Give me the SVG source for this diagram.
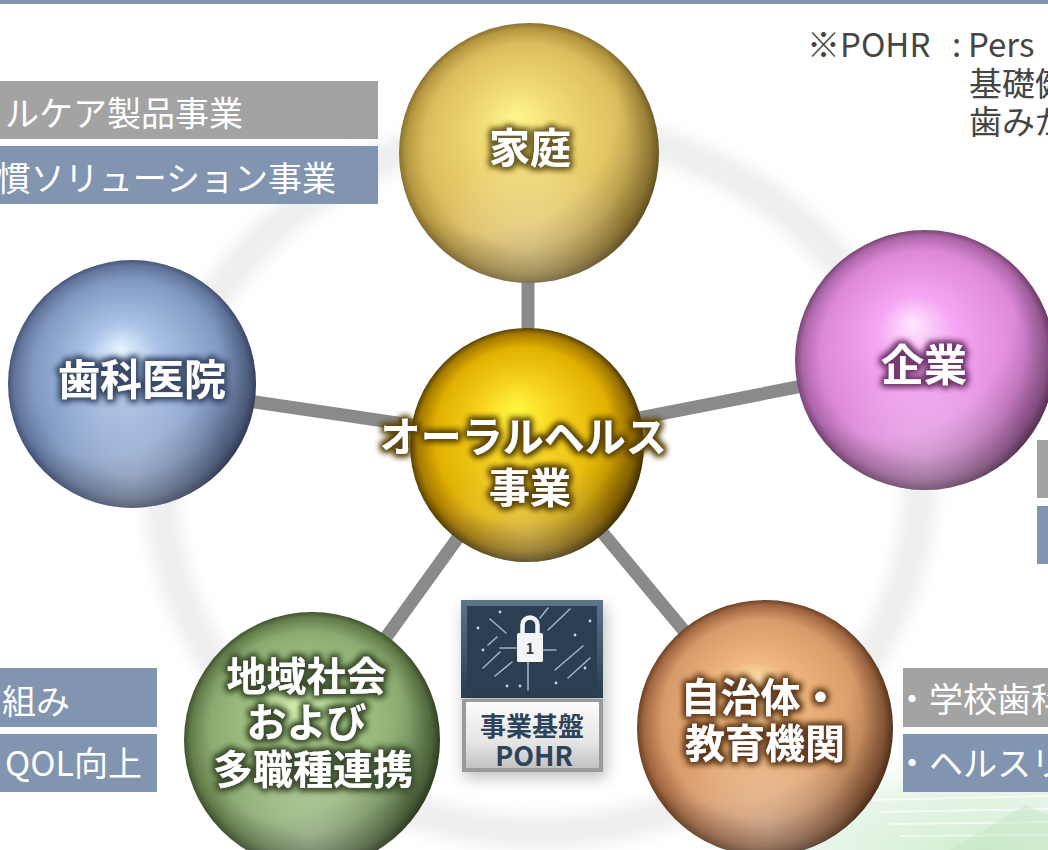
<svg xmlns="http://www.w3.org/2000/svg" width="1048" height="850" viewBox="0 0 1048 850">
  <style>
    .jp { font-family: "Noto Sans CJK JP", "Noto Sans", sans-serif; }
    .tag { font-family: "Noto Sans CJK JP", "Noto Sans", sans-serif; font-size: 34px; fill: #ffffff; }
    .note { font-family: "Noto Sans CJK JP", "Noto Sans", sans-serif; font-size: 33px; fill: #454545; }
    .ball { font-family: "Noto Sans CJK JP", sans-serif; font-weight: 700; fill: #ffffff; text-anchor: middle; }
    .gbox { fill: #a3a3a3; }
    .bbox { fill: #8195b0; }
    .link { stroke: #8a8a8a; stroke-width: 13; stroke-linecap: butt; fill: none; }
    .circ { stroke: #9fb2c3; stroke-width: 1.6; fill: none; stroke-linecap: round; }
    .dot { fill: #c9d6e0; }
  </style>
  <defs>
    <!-- sphere shading -->
    <radialGradient id="gHome" cx="50%" cy="50%" r="50%" fx="45%" fy="36%">
      <stop offset="0" stop-color="#fcf68c"/>
      <stop offset="0.35" stop-color="#efd873"/>
      <stop offset="0.78" stop-color="#dcbd5e"/>
      <stop offset="0.94" stop-color="#b4963f"/>
      <stop offset="1" stop-color="#8a7230"/>
    </radialGradient>
    <radialGradient id="gCore" cx="50%" cy="50%" r="50%" fx="45%" fy="34%">
      <stop offset="0" stop-color="#fff640"/>
      <stop offset="0.35" stop-color="#f6d21c"/>
      <stop offset="0.76" stop-color="#e0b000"/>
      <stop offset="0.93" stop-color="#a67a00"/>
      <stop offset="1" stop-color="#5a4200"/>
    </radialGradient>
    <radialGradient id="gDent" cx="50%" cy="50%" r="50%" fx="45%" fy="36%">
      <stop offset="0" stop-color="#e6f6ff"/>
      <stop offset="0.3" stop-color="#a9c2e6"/>
      <stop offset="0.78" stop-color="#8099c2"/>
      <stop offset="0.94" stop-color="#62769c"/>
      <stop offset="1" stop-color="#46557a"/>
    </radialGradient>
    <radialGradient id="gCorp" cx="50%" cy="50%" r="50%" fx="45%" fy="36%">
      <stop offset="0" stop-color="#ffe6ff"/>
      <stop offset="0.3" stop-color="#f5a6f2"/>
      <stop offset="0.78" stop-color="#dc88d8"/>
      <stop offset="0.94" stop-color="#ac66a8"/>
      <stop offset="1" stop-color="#7a4476"/>
    </radialGradient>
    <radialGradient id="gComm" cx="50%" cy="50%" r="50%" fx="45%" fy="34%">
      <stop offset="0" stop-color="#d9f3b4"/>
      <stop offset="0.3" stop-color="#a8c98a"/>
      <stop offset="0.78" stop-color="#8aaa70"/>
      <stop offset="0.94" stop-color="#627c4a"/>
      <stop offset="1" stop-color="#40542e"/>
    </radialGradient>
    <radialGradient id="gGov" cx="50%" cy="50%" r="50%" fx="45%" fy="34%">
      <stop offset="0" stop-color="#fff0b8"/>
      <stop offset="0.3" stop-color="#f0b880"/>
      <stop offset="0.78" stop-color="#d89a6a"/>
      <stop offset="0.94" stop-color="#a26842"/>
      <stop offset="1" stop-color="#6e4224"/>
    </radialGradient>
    <!-- shared darkening toward the lower right rim -->
    <radialGradient id="rim" cx="34%" cy="30%" r="80%">
      <stop offset="0.62" stop-color="#000" stop-opacity="0"/>
      <stop offset="1" stop-color="#000" stop-opacity="0.38"/>
    </radialGradient>
    <!-- soft bounce light at the bottom of each ball -->
    <radialGradient id="bounce" cx="50%" cy="88%" r="40%">
      <stop offset="0" stop-color="#fff" stop-opacity="0.28"/>
      <stop offset="1" stop-color="#fff" stop-opacity="0"/>
    </radialGradient>

    <linearGradient id="silver" x1="0" y1="0" x2="0" y2="1">
      <stop offset="0" stop-color="#fbfbfb"/>
      <stop offset="0.6" stop-color="#e6e6e6"/>
      <stop offset="1" stop-color="#c2c2c2"/>
    </linearGradient>
    <linearGradient id="navy" x1="0" y1="0" x2="0" y2="1">
      <stop offset="0" stop-color="#5d7489"/>
      <stop offset="1" stop-color="#2a3b4e"/>
    </linearGradient>
    <radialGradient id="mint" cx="85%" cy="100%" r="65%">
      <stop offset="0" stop-color="#cfeccf"/>
      <stop offset="0.6" stop-color="#e0f2e0" stop-opacity="0.7"/>
      <stop offset="1" stop-color="#ffffff" stop-opacity="0"/>
    </radialGradient>

    <filter id="soft" x="-20%" y="-20%" width="140%" height="140%">
      <feGaussianBlur stdDeviation="7"/>
    </filter>
    <filter id="shadow" x="-20%" y="-20%" width="140%" height="150%">
      <feGaussianBlur stdDeviation="8"/>
    </filter>

    <!-- halo behind the white ball labels, one tint per ball -->
    <filter id="hHome" x="-20%" y="-40%" width="140%" height="180%">
      <feMorphology in="SourceAlpha" operator="dilate" radius="2" result="d"/>
      <feGaussianBlur in="d" stdDeviation="3" result="b"/>
      <feFlood flood-color="#6e5e22"/>
      <feComposite in2="b" operator="in" result="s"/>
      <feMerge><feMergeNode in="s"/><feMergeNode in="s"/><feMergeNode in="SourceGraphic"/></feMerge>
    </filter>
    <filter id="hCore" x="-20%" y="-40%" width="140%" height="180%">
      <feMorphology in="SourceAlpha" operator="dilate" radius="2" result="d"/>
      <feGaussianBlur in="d" stdDeviation="3" result="b"/>
      <feFlood flood-color="#5c4508"/>
      <feComposite in2="b" operator="in" result="s"/>
      <feMerge><feMergeNode in="s"/><feMergeNode in="s"/><feMergeNode in="SourceGraphic"/></feMerge>
    </filter>
    <filter id="hDent" x="-20%" y="-40%" width="140%" height="180%">
      <feMorphology in="SourceAlpha" operator="dilate" radius="2" result="d"/>
      <feGaussianBlur in="d" stdDeviation="3" result="b"/>
      <feFlood flood-color="#3a4a6a"/>
      <feComposite in2="b" operator="in" result="s"/>
      <feMerge><feMergeNode in="s"/><feMergeNode in="s"/><feMergeNode in="SourceGraphic"/></feMerge>
    </filter>
    <filter id="hCorp" x="-20%" y="-40%" width="140%" height="180%">
      <feMorphology in="SourceAlpha" operator="dilate" radius="2" result="d"/>
      <feGaussianBlur in="d" stdDeviation="3" result="b"/>
      <feFlood flood-color="#73376f"/>
      <feComposite in2="b" operator="in" result="s"/>
      <feMerge><feMergeNode in="s"/><feMergeNode in="s"/><feMergeNode in="SourceGraphic"/></feMerge>
    </filter>
    <filter id="hComm" x="-20%" y="-40%" width="140%" height="180%">
      <feMorphology in="SourceAlpha" operator="dilate" radius="2" result="d"/>
      <feGaussianBlur in="d" stdDeviation="3" result="b"/>
      <feFlood flood-color="#3c4e2e"/>
      <feComposite in2="b" operator="in" result="s"/>
      <feMerge><feMergeNode in="s"/><feMergeNode in="s"/><feMergeNode in="SourceGraphic"/></feMerge>
    </filter>
    <filter id="hGov" x="-20%" y="-40%" width="140%" height="180%">
      <feMorphology in="SourceAlpha" operator="dilate" radius="2" result="d"/>
      <feGaussianBlur in="d" stdDeviation="3" result="b"/>
      <feFlood flood-color="#643c1e"/>
      <feComposite in2="b" operator="in" result="s"/>
      <feMerge><feMergeNode in="s"/><feMergeNode in="s"/><feMergeNode in="SourceGraphic"/></feMerge>
    </filter>
  </defs>

  <!-- page -->
  <rect width="1048" height="850" fill="#ffffff"/>
  <rect x="0" y="0" width="1048" height="4" fill="#8196b2"/>

  <!-- mint wash in the lower right corner -->
  <g id="backdrop">
    <rect x="620" y="680" width="428" height="170" fill="url(#mint)"/>
    <g stroke="#ffffff" stroke-opacity="0.6" stroke-width="2">
      <line x1="870" y1="800" x2="1048" y2="796"/>
      <line x1="880" y1="812" x2="1048" y2="809"/>
      <line x1="890" y1="824" x2="1048" y2="822"/>
      <line x1="900" y1="836" x2="1048" y2="835"/>
    </g>
    <path d="M950 850 L1025 805 L1048 815 L1048 850 Z" fill="#c4e4c8" opacity="0.45"/>
    <!-- faint ring around the hub -->
    <ellipse cx="540" cy="480" rx="380" ry="352" fill="none" stroke="#dedede" stroke-width="34" filter="url(#soft)" opacity="0.5"/>
  </g>

  <!-- spokes between the hub and the outer balls -->
  <g id="connectors">
    <line class="link" x1="528" y1="150" x2="528" y2="440"/>
    <line class="link" x1="132" y1="384" x2="527" y2="442"/>
    <line class="link" x1="925" y1="362" x2="527" y2="440"/>
    <line class="link" x1="312" y1="740" x2="527" y2="442"/>
    <line class="link" x1="765" y1="728" x2="527" y2="442"/>
  </g>

  <!-- label strips -->
  <g id="tags-home">
    <rect class="gbox" x="0" y="81" width="378" height="58"/>
    <text class="tag" x="243" y="126" text-anchor="end">ルケア製品事業</text>
    <rect class="bbox" x="0" y="146" width="378" height="58"/>
    <text class="tag" x="336" y="191" text-anchor="end">慣ソリューション事業</text>
  </g>
  <g id="tags-corp">
    <rect class="gbox" x="1037" y="440" width="11" height="58"/>
    <rect class="bbox" x="1037" y="506" width="11" height="58"/>
  </g>
  <g id="tags-comm">
    <rect class="bbox" x="0" y="668" width="157" height="59"/>
    <text class="tag" x="70" y="714" text-anchor="end">組み</text>
    <rect class="bbox" x="0" y="734" width="157" height="58"/>
    <text class="tag" x="142" y="776" text-anchor="end">QOL向上</text>
  </g>
  <g id="tags-gov">
    <rect class="gbox" x="903" y="668" width="145" height="59"/>
    <text class="tag" x="895" y="712">・学校歯科</text>
    <rect class="bbox" x="903" y="734" width="145" height="58"/>
    <text class="tag" x="895" y="776">・ヘルスリ</text>
  </g>

  <!-- footnote -->
  <g id="note">
    <text class="note" y="57"><tspan x="807">※POHR</tspan><tspan x="952">:</tspan><tspan x="968">Pers</tspan></text>
    <text class="note" x="969" y="96">基礎健</text>
    <text class="note" x="969" y="134">歯みが</text>
  </g>

  <!-- outer balls -->
  <g id="node-home">
    <circle cx="529" cy="153" r="130" fill="url(#gHome)"/>
    <circle cx="529" cy="153" r="130" fill="url(#rim)"/>
    <circle cx="529" cy="153" r="130" fill="url(#bounce)"/>
    <text class="ball" x="530" y="163" font-size="41" filter="url(#hHome)">家庭</text>
  </g>
  <g id="node-dental">
    <circle cx="132" cy="384" r="124" fill="url(#gDent)"/>
    <circle cx="132" cy="384" r="124" fill="url(#rim)"/>
    <circle cx="132" cy="384" r="124" fill="url(#bounce)"/>
    <text class="ball" x="142" y="395" font-size="42" filter="url(#hDent)">歯科医院</text>
  </g>
  <g id="node-corp">
    <circle cx="925" cy="360" r="130" fill="url(#gCorp)"/>
    <circle cx="925" cy="360" r="130" fill="url(#rim)"/>
    <circle cx="925" cy="360" r="130" fill="url(#bounce)"/>
    <text class="ball" x="924" y="381" font-size="43" filter="url(#hCorp)">企業</text>
  </g>
  <g id="node-community">
    <circle cx="312" cy="740" r="128" fill="url(#gComm)"/>
    <circle cx="312" cy="740" r="128" fill="url(#rim)"/>
    <circle cx="312" cy="740" r="128" fill="url(#bounce)"/>
    <text class="ball" font-size="40" filter="url(#hComm)">
      <tspan x="311" y="691">地域社会</tspan>
      <tspan x="311" y="737">および</tspan>
      <tspan x="313" y="784">多職種連携</tspan>
    </text>
  </g>
  <g id="node-gov">
    <circle cx="765" cy="728" r="128" fill="url(#gGov)"/>
    <circle cx="765" cy="728" r="128" fill="url(#rim)"/>
    <circle cx="765" cy="728" r="128" fill="url(#bounce)"/>
    <text class="ball" font-size="40" filter="url(#hGov)">
      <tspan x="765" y="712">自治体・</tspan>
      <tspan x="765" y="758">教育機関</tspan>
    </text>
  </g>

  <!-- hub -->
  <g id="node-core">
    <circle cx="527" cy="445" r="117" fill="url(#gCore)"/>
    <circle cx="527" cy="445" r="117" fill="url(#rim)"/>
    <circle cx="527" cy="445" r="117" fill="url(#bounce)"/>
    <text class="ball" font-size="41" filter="url(#hCore)">
      <tspan x="528" y="452">オーラルヘルス</tspan>
      <tspan x="530" y="503">事業</tspan>
    </text>
  </g>

  <!-- platform badge -->
  <g id="node-pohr">
    <rect x="464" y="606" width="142" height="172" fill="#000" opacity="0.25" filter="url(#shadow)"/>
    <rect x="461" y="600" width="142" height="98" fill="url(#navy)"/>
    <rect x="467" y="606" width="130" height="86" fill="#2b3e52"/>
    <g class="circ">
      <line x1="490" y1="619" x2="506" y2="633"/>
      <line x1="483" y1="668" x2="500" y2="652"/>
      <line x1="495" y1="676" x2="512" y2="662"/>
      <line x1="500" y1="648" x2="516" y2="648"/>
      <line x1="541" y1="650" x2="556" y2="650"/>
      <line x1="548" y1="630" x2="570" y2="609"/>
      <line x1="555" y1="670" x2="583" y2="646"/>
      <line x1="568" y1="678" x2="590" y2="658"/>
      <line x1="528" y1="662" x2="528" y2="690"/>
      <line x1="540" y1="618" x2="548" y2="608"/>
      <line x1="488" y1="645" x2="497" y2="637"/>
    </g>
    <g class="dot">
      <circle cx="478" cy="628" r="1.4"/>
      <circle cx="483" cy="650" r="1.4"/>
      <circle cx="590" cy="621" r="1.4"/>
      <circle cx="575" cy="635" r="1.4"/>
      <circle cx="585" cy="668" r="1.4"/>
      <circle cx="507" cy="686" r="1.4"/>
      <circle cx="556" cy="683" r="1.4"/>
      <circle cx="500" cy="612" r="1.4"/>
      <circle cx="520" cy="686" r="1.4"/>
    </g>
    <path d="M522.5 634 V625 a7.5 7.5 0 0 1 15 0 V634" fill="none" stroke="#f2f6f8" stroke-width="4.5"/>
    <rect x="517" y="633" width="26" height="29" rx="1.5" fill="#f2f6f8"/>
    <text x="530" y="654" class="jp" font-size="15" font-weight="700" fill="#2b3e52" text-anchor="middle">1</text>

    <rect x="462" y="699" width="141" height="73" fill="#9a9a9a"/>
    <rect x="466" y="702" width="133" height="66" fill="url(#silver)"/>
    <text class="jp" x="532" y="736" font-size="26" font-weight="700" fill="#2e4359" text-anchor="middle">事業基盤</text>
    <text class="jp" x="534" y="766" font-size="27" font-weight="700" fill="#2e4359" text-anchor="middle">POHR</text>
  </g>
</svg>
